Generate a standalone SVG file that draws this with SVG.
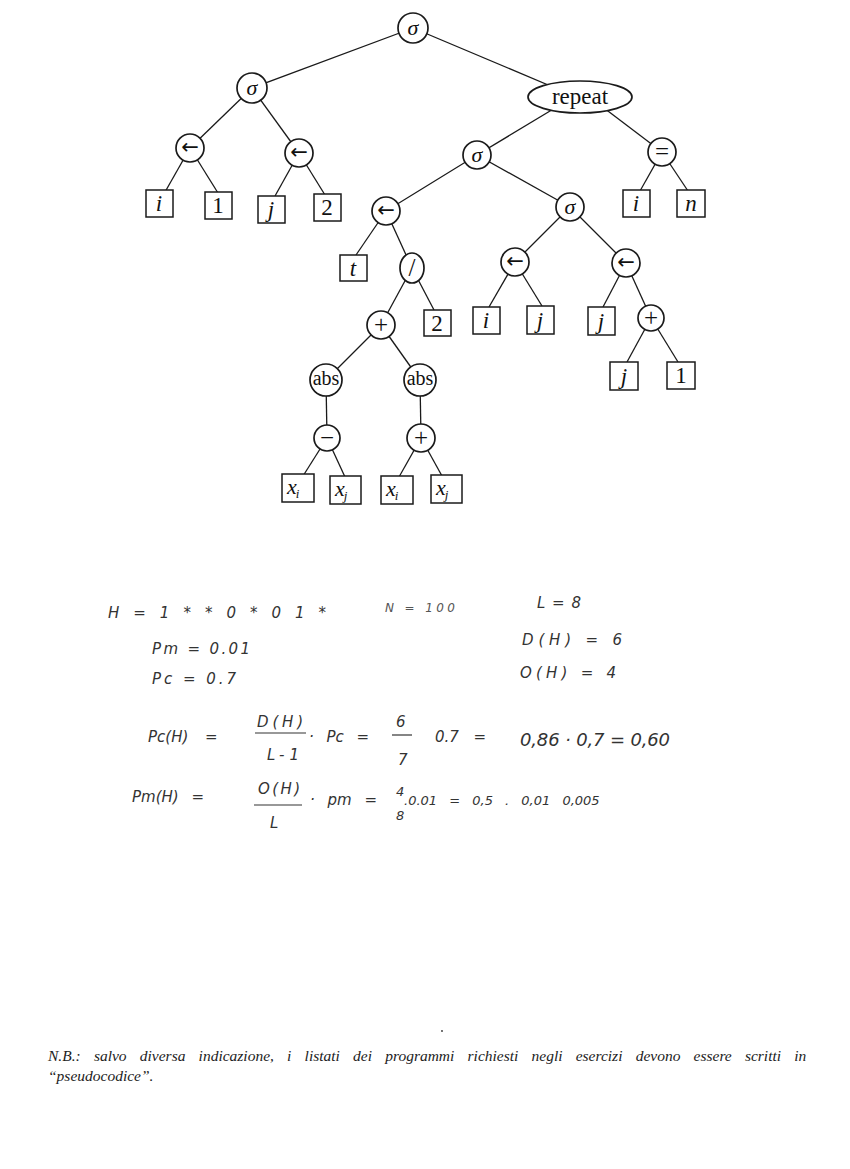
<svg xmlns="http://www.w3.org/2000/svg" width="850" height="1169" viewBox="0 0 850 1169">
<style>
.e{stroke:#1a1a1a;stroke-width:1.3;fill:none}
.n{fill:#fff;stroke:#1a1a1a;stroke-width:1.7}
.b{fill:#fff;stroke:#1a1a1a;stroke-width:1.5}
.t{font-family:"Liberation Serif",serif;fill:#111;text-anchor:middle;dominant-baseline:central}
.v{font-style:italic;font-size:23px}
.d{font-size:23px}
.s{font-style:italic;font-size:22px}
.o{font-size:25px}
.a{font-family:"DejaVu Sans",sans-serif;font-size:21px;fill:#111;text-anchor:middle;dominant-baseline:central}
.h{font-family:"DejaVu Sans","Liberation Sans",sans-serif;fill:#333;font-size:15px;font-style:italic}
.f{stroke:#333;stroke-width:1.2}
.nb{font-family:"Liberation Serif",serif;font-style:italic;font-size:15.5px;fill:#222}
.x{font-family:"Liberation Serif",serif;fill:#111;font-style:italic}
</style>
<rect width="850" height="1169" fill="#fff"/>
<g id="connectors">
<line class="e" x1="413" y1="28" x2="252" y2="88"/>
<line class="e" x1="413" y1="28" x2="560" y2="90"/>
<line class="e" x1="252" y1="88" x2="190" y2="148"/>
<line class="e" x1="252" y1="88" x2="299" y2="153"/>
<line class="e" x1="190" y1="148" x2="165" y2="192"/>
<line class="e" x1="190" y1="148" x2="218" y2="193"/>
<line class="e" x1="299" y1="153" x2="275" y2="196"/>
<line class="e" x1="299" y1="153" x2="325" y2="195"/>
<line class="e" x1="560" y1="105" x2="477" y2="155"/>
<line class="e" x1="600" y1="105" x2="662" y2="152"/>
<line class="e" x1="662" y1="152" x2="640" y2="191"/>
<line class="e" x1="662" y1="152" x2="688" y2="191"/>
<line class="e" x1="477" y1="155" x2="386" y2="211"/>
<line class="e" x1="477" y1="155" x2="570" y2="207"/>
<line class="e" x1="386" y1="211" x2="356" y2="255"/>
<line class="e" x1="386" y1="211" x2="412" y2="268"/>
<line class="e" x1="412" y1="268" x2="381" y2="325"/>
<line class="e" x1="412" y1="268" x2="434" y2="310"/>
<line class="e" x1="570" y1="207" x2="515" y2="262"/>
<line class="e" x1="570" y1="207" x2="626" y2="263"/>
<line class="e" x1="515" y1="262" x2="489" y2="307"/>
<line class="e" x1="515" y1="262" x2="542" y2="306"/>
<line class="e" x1="626" y1="263" x2="603" y2="307"/>
<line class="e" x1="626" y1="263" x2="651" y2="318"/>
<line class="e" x1="651" y1="318" x2="627" y2="362"/>
<line class="e" x1="651" y1="318" x2="678" y2="362"/>
<line class="e" x1="381" y1="325" x2="326" y2="380"/>
<line class="e" x1="381" y1="325" x2="420" y2="380"/>
<line class="e" x1="326" y1="380" x2="327" y2="438"/>
<line class="e" x1="420" y1="380" x2="421" y2="438"/>
<line class="e" x1="327" y1="438" x2="303" y2="476"/>
<line class="e" x1="327" y1="438" x2="345" y2="477"/>
<line class="e" x1="421" y1="438" x2="399" y2="477"/>
<line class="e" x1="421" y1="438" x2="442" y2="476"/>
</g>
<g id="n-root"><circle class="n" cx="413" cy="28" r="15"/><text class="t s" x="413" y="27">σ</text></g>
<g id="n-seq1"><circle class="n" cx="252" cy="88" r="15"/><text class="t s" x="252" y="87">σ</text></g>
<g id="n-repeat"><ellipse class="n" cx="580" cy="97" rx="52" ry="16"/><text class="t" style="font-size:23px" x="580" y="96">repeat</text></g>
<g id="n-asg1"><circle class="n" cx="190" cy="148" r="14"/><text class="a" x="190" y="147">←</text></g>
<g id="n-asg2"><circle class="n" cx="299" cy="153" r="14"/><text class="a" x="299" y="152">←</text></g>
<g id="n-i1"><rect class="b" x="146" y="190" width="27" height="27"/><text class="t v" x="159" y="203">i</text></g>
<g id="n-one1"><rect class="b" x="205" y="192" width="27" height="27"/><text class="t d" x="218" y="205">1</text></g>
<g id="n-j1"><rect class="b" x="258" y="196" width="27" height="27"/><text class="t v" x="271" y="209">j</text></g>
<g id="n-two1"><rect class="b" x="314" y="194" width="27" height="27"/><text class="t d" x="327" y="207">2</text></g>
<g id="n-seq2"><circle class="n" cx="477" cy="155" r="14"/><text class="t s" x="477" y="154">σ</text></g>
<g id="n-eq"><circle class="n" cx="662" cy="152" r="14"/><text class="t o" x="662" y="151">=</text></g>
<g id="n-i2"><rect class="b" x="623" y="190" width="27" height="27"/><text class="t v" x="636" y="203">i</text></g>
<g id="n-n"><rect class="b" x="677" y="190" width="28" height="27"/><text class="t v" x="691" y="203">n</text></g>
<g id="n-asg3"><circle class="n" cx="386" cy="211" r="14"/><text class="a" x="386" y="210">←</text></g>
<g id="n-seq3"><circle class="n" cx="570" cy="207" r="14"/><text class="t s" x="570" y="206">σ</text></g>
<g id="n-t"><rect class="b" x="340" y="255" width="27" height="26"/><text class="t v" x="353" y="268">t</text></g>
<g id="n-div"><ellipse class="n" cx="412" cy="268" rx="12" ry="15"/><text class="t o" x="412" y="267">/</text></g>
<g id="n-asg4"><circle class="n" cx="515" cy="262" r="14"/><text class="a" x="515" y="261">←</text></g>
<g id="n-asg5"><circle class="n" cx="626" cy="263" r="14"/><text class="a" x="626" y="262">←</text></g>
<g id="n-i3"><rect class="b" x="473" y="307" width="27" height="27"/><text class="t v" x="486" y="320">i</text></g>
<g id="n-j2"><rect class="b" x="527" y="306" width="27" height="28"/><text class="t v" x="540" y="320">j</text></g>
<g id="n-j3"><rect class="b" x="588" y="307" width="27" height="28"/><text class="t v" x="601" y="321">j</text></g>
<g id="n-plus2"><circle class="n" cx="651" cy="318" r="13"/><text class="t o" x="651" y="317">+</text></g>
<g id="n-plus1"><circle class="n" cx="381" cy="325" r="14"/><text class="t o" x="381" y="324">+</text></g>
<g id="n-two2"><rect class="b" x="424" y="310" width="27" height="26"/><text class="t d" x="437" y="323">2</text></g>
<g id="n-j4"><rect class="b" x="610" y="362" width="28" height="28"/><text class="t v" x="624" y="376">j</text></g>
<g id="n-one2"><rect class="b" x="667" y="362" width="28" height="27"/><text class="t d" x="681" y="375">1</text></g>
<g id="n-abs1"><ellipse class="n" cx="326" cy="380" rx="16" ry="16"/><text class="t" style="font-size:20px" x="326" y="378">abs</text></g>
<g id="n-abs2"><ellipse class="n" cx="420" cy="380" rx="16" ry="16"/><text class="t" style="font-size:20px" x="420" y="378">abs</text></g>
<g id="n-minus"><circle class="n" cx="327" cy="438" r="13"/><text class="t o" x="327" y="437">−</text></g>
<g id="n-plus3"><circle class="n" cx="421" cy="438" r="14"/><text class="t o" x="421" y="437">+</text></g>
<g id="n-xi1"><rect class="b" x="282" y="474" width="32" height="28"/><text class="x" x="287" y="494" style="font-size:22px">x<tspan dx="-1" dy="4" style="font-size:13px">i</tspan></text></g>
<g id="n-xj1"><rect class="b" x="330" y="476" width="31" height="28"/><text class="x" x="335" y="496" style="font-size:22px">x<tspan dx="-1" dy="4" style="font-size:13px">j</tspan></text></g>
<g id="n-xi2"><rect class="b" x="381" y="476" width="32" height="28"/><text class="x" x="386" y="496" style="font-size:22px">x<tspan dx="-1" dy="4" style="font-size:13px">i</tspan></text></g>
<g id="n-xj2"><rect class="b" x="431" y="475" width="31" height="28"/><text class="x" x="436" y="495" style="font-size:22px">x<tspan dx="-1" dy="4" style="font-size:13px">j</tspan></text></g>
<g id="notes">
<text class="h" x="108" y="618" textLength="218" lengthAdjust="spacing">H = 1 * * 0 * 0 1 *</text>
<text class="h" x="385" y="612" style="font-size:12px;fill:#555" textLength="70" lengthAdjust="spacing">N = 100</text>
<text class="h" x="537" y="608" textLength="44" lengthAdjust="spacing">L = 8</text>
<text class="h" x="152" y="654" textLength="98" lengthAdjust="spacing">Pm = 0.01</text>
<text class="h" x="152" y="684" textLength="84" lengthAdjust="spacing">Pc = 0.7</text>
<text class="h" x="522" y="645" textLength="100" lengthAdjust="spacing">D(H) =  6</text>
<text class="h" x="520" y="678" textLength="96" lengthAdjust="spacing">O(H) =  4</text>
<text class="h" x="148" y="742" style="word-spacing:12px">Pc(H) =</text>
<text class="h" x="257" y="727" textLength="46" lengthAdjust="spacing">D(H)</text>
<line class="f" x1="255" y1="733" x2="306" y2="733"/>
<text class="h" x="267" y="760" textLength="32" lengthAdjust="spacing">L-1</text>
<text class="h" x="309" y="742" style="word-spacing:8px">· Pc =</text>
<text class="h" x="396" y="727">6</text>
<line class="f" x1="392" y1="735" x2="412" y2="735"/>
<text class="h" x="398" y="765">7</text>
<text class="h" x="435" y="742" style="word-spacing:10px">0.7 =</text>
<text class="h" x="520" y="746" style="font-size:18px" textLength="150" lengthAdjust="spacing">0,86 · 0,7 = 0,60</text>
<text class="h" x="132" y="802" style="word-spacing:8px">Pm(H) =</text>
<text class="h" x="258" y="794" textLength="42" lengthAdjust="spacing">O(H)</text>
<line class="f" x1="254" y1="805" x2="302" y2="805"/>
<text class="h" x="270" y="828">L</text>
<text class="h" x="310" y="805" style="word-spacing:8px">· pm =</text>
<text class="h" x="396" y="796" style="font-size:13px">4</text>
<text class="h" x="396" y="820" style="font-size:13px">8</text>
<text class="h" x="404" y="805" style="font-size:13px;word-spacing:8px">.0.01 = 0,5 . 0,01 0,005</text>
</g>
<g id="footnote">
<circle cx="442" cy="1031" r="0.9" fill="#333"/>
<text class="nb" x="48" y="1061" style="word-spacing:9.3px">N.B.: salvo diversa indicazione, i listati dei programmi richiesti negli esercizi devono essere scritti in</text>
<text class="nb" x="48" y="1081">“pseudocodice”.</text>
</g>
</svg>
